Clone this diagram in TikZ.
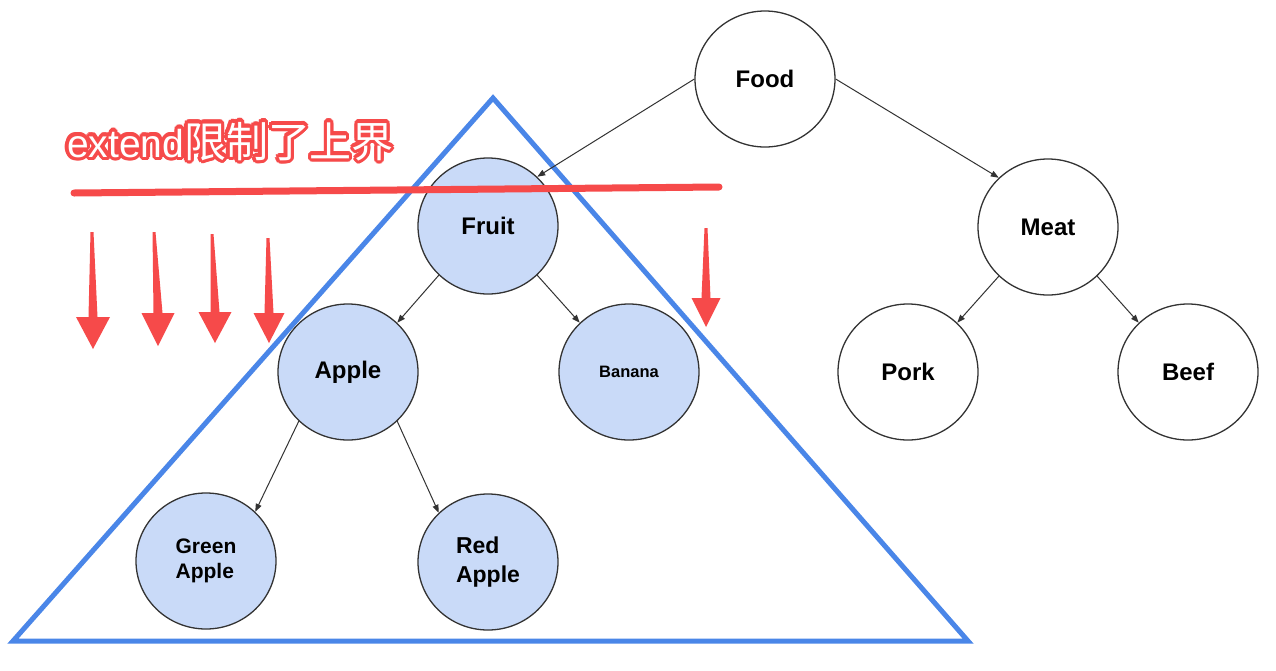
\documentclass[tikz,border=0pt]{standalone}
\usepackage{fontspec}
\setmainfont{Liberation Sans}
\newfontfamily\cjkf{Noto Sans CJK SC}
\usetikzlibrary{shapes.geometric,arrows.meta}
\definecolor{nodeblue}{HTML}{C9DAF8}
\definecolor{triblue}{HTML}{4A86E8}
\definecolor{annored}{HTML}{F64A4A}
\definecolor{edgegray}{HTML}{333333}
\newcommand\RedArrow[6]{% top x, top y, head y, tip x, tip y, half head width
  \fill[annored] (#1-1.5,#2) -- (#1+1.5,#2) -- (#4+4.5,#3) -- (#4+#6,#3) -- (#4,#5)
    -- (#4-#6,#3) -- (#4-4.5,#3) -- cycle;}
\newcommand\LabelText{extend{\cjkf\fontsize{42}{44}\selectfont 限制了\kern-1pt 上界}}
\newcommand\OLcopy[2]{\rlap{\kern#1pt\raisebox{#2pt}{\textcolor{annored}{\LabelText}}}}
\newcommand\OutlinedLabel{%
  \OLcopy{3.3}{0}\OLcopy{3.05}{1.26}\OLcopy{2.33}{2.33}\OLcopy{1.26}{3.05}%
  \OLcopy{0}{3.3}\OLcopy{-1.26}{3.05}\OLcopy{-2.33}{2.33}\OLcopy{-3.05}{1.26}%
  \OLcopy{-3.3}{0}\OLcopy{-3.05}{-1.26}\OLcopy{-2.33}{-2.33}\OLcopy{-1.26}{-3.05}%
  \OLcopy{0}{-3.3}\OLcopy{1.26}{-3.05}\OLcopy{2.33}{-2.33}\OLcopy{3.05}{-1.26}%
  \textcolor{white}{\LabelText}}
\begin{document}
\begin{tikzpicture}[x=1pt,y=-1pt,
  tnode/.style={ellipse, draw=edgegray, line width=1.3pt, minimum width=140pt,
    minimum height=136pt, inner sep=0pt, text=black,
    font=\bfseries\fontsize{24}{28}\selectfont},
  bluenode/.style={tnode, fill=nodeblue},
  whitenode/.style={tnode, fill=white},
  conn/.style={draw=edgegray, line width=1pt, -{Triangle[length=8pt,width=6pt]}},
  tri/.style={draw=triblue, line width=5pt, line join=miter},
  redline/.style={draw=annored, line width=7pt, line cap=round},
  lbl/.style={anchor=base west, inner sep=0pt, font=\fontsize{39}{42}\selectfont}]
\useasboundingbox[fill=white] (0,0) rectangle (1276,670);

% triangle
\draw[tri] (493,98) -- (968,641) -- (13,641) -- cycle;

% nodes
\node[whitenode] (food) at (765,79) {Food};
\node[bluenode] (fruit) at (488,226) {Fruit};
\node[whitenode] (meat) at (1048,227) {Meat};
\node[bluenode] (apple) at (348,372) {Apple};
\node[bluenode, font=\bfseries\fontsize{16.5}{20}\selectfont] (banana) at (629,372) {Banana};
\node[whitenode] (pork) at (908,372) {Pork};
\node[whitenode] (beef) at (1188,372) {Beef};
\node[bluenode, align=left, font=\bfseries\fontsize{21}{25.5}\selectfont] (green) at (206,561) {Green\\Apple};
\node[bluenode, align=left, font=\bfseries\fontsize{23}{29}\selectfont] (red) at (488,562) {Red\\Apple};

% connectors
\draw[conn] (food.west) -- (fruit.45);
\draw[conn] (food.east) -- (meat.135);
\draw[conn] (fruit.225) -- (apple.45);
\draw[conn] (fruit.315) -- (banana.135);
\draw[conn] (meat.225) -- (pork.45);
\draw[conn] (meat.315) -- (beef.135);
\draw[conn] (apple.225) -- (green.45);
\draw[conn] (apple.315) -- (red.135);

% red annotation line
\draw[redline] (74,193) -- (719,187);

% red arrows
\RedArrow{92}{232}{317}{93}{349}{17}
\RedArrow{154}{232}{313}{158}{346}{16.5}
\RedArrow{212}{234}{312}{215}{343}{16.5}
\RedArrow{268}{238}{313}{269}{343}{15.5}
\RedArrow{706}{228}{298}{706}{327}{14.5}

% outlined label
\node[lbl] (lbl) at (67,157) {\OutlinedLabel};
\end{tikzpicture}
\end{document}
